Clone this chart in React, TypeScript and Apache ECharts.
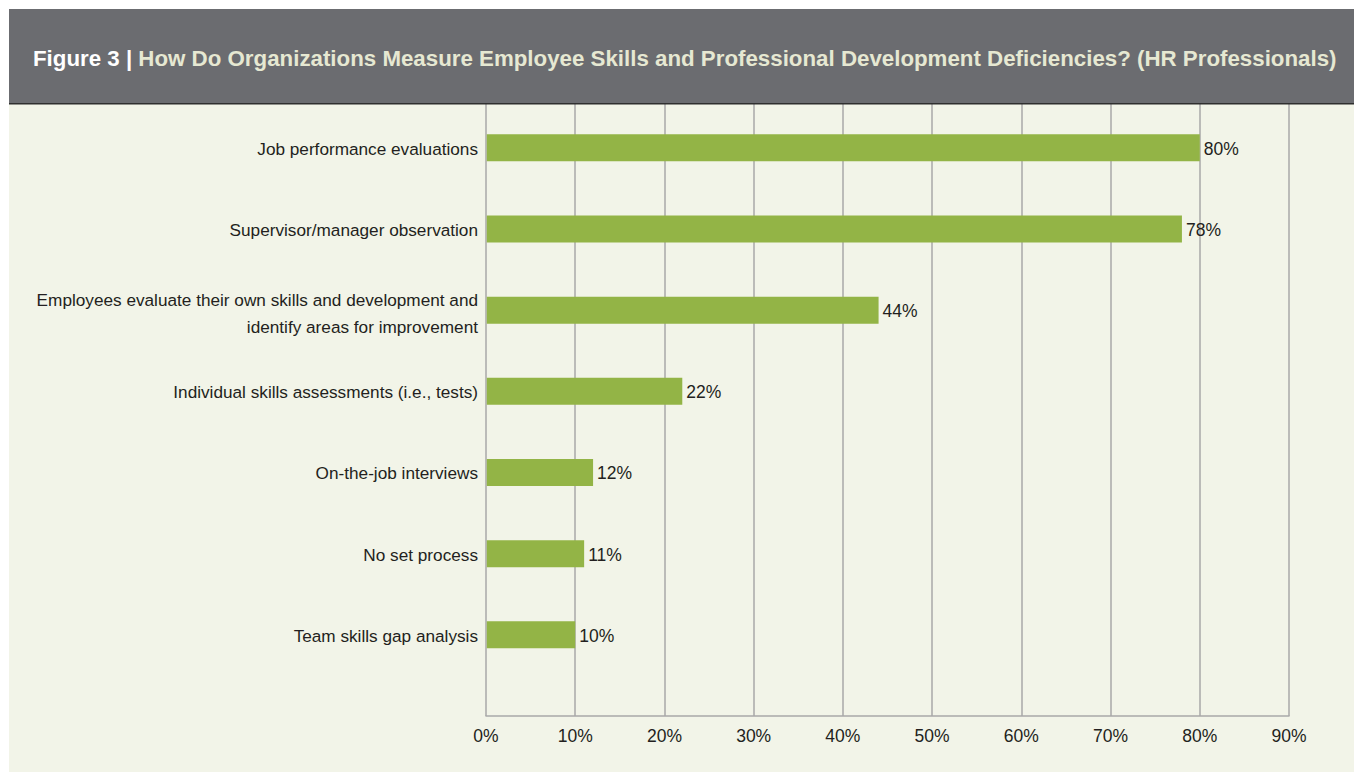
import React, { useEffect, useRef } from "react";
import * as echarts from "echarts";

const titleLead = "Figure 3 | ";
const titleMain =
  "How Do Organizations Measure Employee Skills and Professional Development Deficiencies? (HR Professionals)";

const categories = [
  "Job performance evaluations",
  "Supervisor/manager observation",
  "Employees evaluate their own skills and development and\nidentify areas for improvement",
  "Individual skills assessments (i.e., tests)",
  "On-the-job interviews",
  "No set process",
  "Team skills gap analysis",
];

const values = [80, 78, 44, 22, 12, 11, 10];

const xTicks = [0, 10, 20, 30, 40, 50, 60, 70, 80, 90];

const FONT = "'Liberation Sans', Arial, Helvetica, sans-serif";
const TEXT = "#231F20";
const GRID = "#A9A9A9";
const BAR = "#93B446";

export default function App() {
  const ref = useRef<HTMLDivElement>(null);

  useEffect(() => {
    if (!ref.current) return;
    const chart = echarts.init(ref.current, null, { renderer: "svg" });

    const option: any = {
      animation: false,
      backgroundColor: "#F2F4E8",
      grid: { left: 477, top: 95, width: 803, height: 612, containLabel: false },
      xAxis: {
        type: "value",
        min: xTicks[0],
        max: xTicks[xTicks.length - 1],
        interval: 10,
        axisLine: { show: true, onZero: false, lineStyle: { color: GRID, width: 1.5 } },
        axisTick: { show: false },
        axisLabel: {
          color: TEXT,
          fontSize: 17.5,
          fontFamily: FONT,
          margin: 11,
          formatter: (v: number) => v + "%",
        },
        splitLine: { show: true, lineStyle: { color: GRID, width: 1.5 } },
      },
      yAxis: {
        type: "value",
        inverse: true,
        min: -0.54,
        max: 7,
        show: false,
      },
      graphic: [
        {
          type: "rect",
          z: 100,
          shape: { x: 0, y: 0, width: 1345, height: 94 },
          style: { fill: "#6B6C70" },
        },
        {
          type: "rect",
          z: 100,
          shape: { x: 0, y: 94, width: 1345, height: 1.6 },
          style: { fill: "#2F2F2F" },
        },
        {
          type: "text",
          z: 101,
          x: 24,
          y: 49,
          style: {
            text: "{a|" + titleLead + "}{b|" + titleMain + "}",
            verticalAlign: "middle",
            rich: {
              a: { fill: "#FFFFFF", fontSize: 22.3, fontWeight: "bold", fontFamily: FONT },
              b: { fill: "#E6E8D2", fontSize: 22.3, fontWeight: "bold", fontFamily: FONT },
            },
          },
        },
      ],
      series: [
        {
          type: "custom",
          encode: { x: 0, y: 1 },
          data: values.map((v, i) => [v, i]),
          renderItem: (params: any, api: any) => {
            const v = api.value(0);
            const i = api.value(1);
            const p0 = api.coord([0, i]);
            const p1 = api.coord([v, i]);
            const h = 27;
            const multi = categories[i].indexOf("\n") >= 0;
            return {
              type: "group",
              children: [
                {
                  type: "rect",
                  shape: { x: p0[0] + 0.8, y: p0[1] - h / 2, width: p1[0] - p0[0] - 0.8, height: h },
                  style: { fill: BAR },
                },
                {
                  type: "text",
                  x: p1[0] + 4,
                  y: p1[1] + 1,
                  style: {
                    text: v + "%",
                    fill: TEXT,
                    fontSize: 17.5,
                    fontFamily: FONT,
                    align: "left",
                    verticalAlign: "middle",
                  },
                },
                {
                  type: "text",
                  x: p0[0] - 8,
                  y: p0[1] + (multi ? 3 : 1),
                  style: {
                    text: categories[i],
                    fill: TEXT,
                    fontSize: 17.2,
                    fontFamily: FONT,
                    lineHeight: 27,
                    align: "right",
                    verticalAlign: "middle",
                  },
                },
              ],
            };
          },
        },
      ],
    };

    chart.setOption(option);
    return () => chart.dispose();
  }, []);

  return (
    <div style={{ position: "fixed", left: 0, top: 0, width: 1354, height: 772, background: "#FFFFFF" }}>
      <div
        ref={ref}
        style={{ position: "absolute", left: 9, top: 9, width: 1345, height: 763 }}
      />
    </div>
  );
}
